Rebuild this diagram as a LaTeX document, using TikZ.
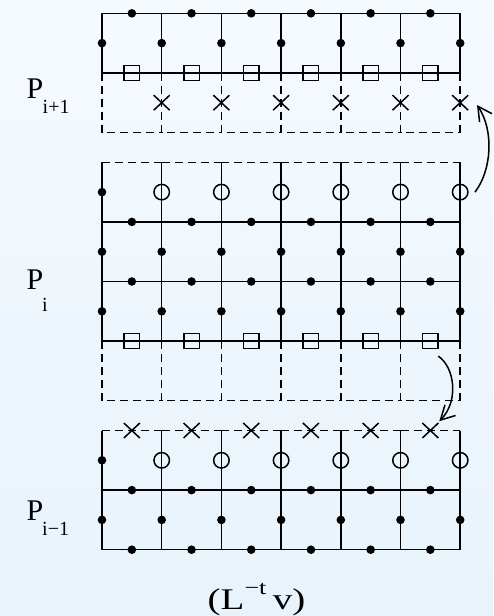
\documentclass[tikz,border=0pt]{standalone}
\usepackage{fontspec}
\setmainfont{Liberation Serif}
\usetikzlibrary{arrows.meta,calc,shapes.misc}
\definecolor{bgtop}{RGB}{245,250,255}
\definecolor{bgbot}{RGB}{232,243,251}
\begin{document}
\begin{tikzpicture}[x=1pt,y=-1pt,
  ln/.style={line width=1.5pt, black},
  dsh/.style={line width=1.5pt, black, dash pattern=on 8pt off 5pt},
  dotnode/.style={circle, fill=black, inner sep=0pt, minimum size=8.6pt},
  circnode/.style={circle, draw=black, line width=1.5pt, inner sep=0pt, minimum size=15.5pt},
  sqnode/.style={rectangle, draw=black, line width=1.5pt, inner sep=0pt, minimum width=15.5pt, minimum height=15pt},
  crossnode/.style={cross out, draw=black, line width=1.5pt, inner sep=0pt, minimum width=14.5pt, minimum height=13.5pt},
  arr/.style={line width=1.5pt, black, -{Straight Barb[length=14pt,width=15pt,line width=1.5pt]}},
  lab/.style={anchor=base west, inner sep=0pt, font=\fontsize{30}{30}\selectfont},
  sublab/.style={anchor=base west, inner sep=0pt, font=\fontsize{20}{20}\selectfont}]
\useasboundingbox (0,0) rectangle (493,616);
\shade[top color=bgtop, bottom color=bgbot] (0,0) rectangle (493,616);

\begin{scope}[shift={(102,13.3)}, x=59.7pt, y=-29.8pt]
  % ---------- top block (P_{i+1}) ----------
  \draw[ln] (0,0) -- (6,0);
  \draw[ln] (0,2) -- (6,2);
  \foreach \i in {0,...,6} \draw[ln] (\i,0) -- (\i,2);
  \foreach \i in {0,...,5} \draw[dsh] (\i,2) -- (\i,4) -- (\i+1,4);
  \draw[dsh] (6,2) -- (6,4);
  \foreach \i in {0,...,5} \node[dotnode] (ta\i) at (\i+0.5,0) {};
  \foreach \i in {0,...,6} \node[dotnode] (tb\i) at (\i,1) {};
  \foreach \i in {0,...,5} \node[sqnode] (ts\i) at (\i+0.5,2) {};
  \foreach \i in {1,...,6} \node[crossnode] (tx\i) at (\i,3) {};

  % ---------- middle block (P_i) ----------
  \foreach \i in {0,...,5} \draw[dsh] (\i,5) -- (\i+1,5);
  \foreach \i in {0,...,6} \draw[ln] (\i,5) -- (\i,11);
  \draw[ln] (0,7) -- (6,7);
  \draw[ln] (0,9) -- (6,9);
  \draw[ln] (0,11) -- (6,11);
  \foreach \i in {0,...,5} \draw[dsh] (\i,11) -- (\i,13) -- (\i+1,13);
  \draw[dsh] (6,11) -- (6,13);
  \node[dotnode] (mc0) at (0,6) {};
  \foreach \i in {1,...,6} \node[circnode] (mc\i) at (\i,6) {};
  \foreach \i in {0,...,5} \node[dotnode] (ma\i) at (\i+0.5,7) {};
  \foreach \i in {0,...,6} \node[dotnode] (mb\i) at (\i,8) {};
  \foreach \i in {0,...,5} \node[dotnode] (md\i) at (\i+0.5,9) {};
  \foreach \i in {0,...,6} \node[dotnode] (me\i) at (\i,10) {};
  \foreach \i in {0,...,5} \node[sqnode] (ms\i) at (\i+0.5,11) {};

  % ---------- bottom block (P_{i-1}) ----------
  \foreach \i in {0,...,5} \draw[dsh] (\i,14) -- (\i+1,14);
  \foreach \i in {0,...,6} \draw[ln] (\i,14) -- (\i,18);
  \draw[ln] (0,16) -- (6,16);
  \draw[ln] (0,18) -- (6,18);
  \foreach \i in {0,...,5} \node[crossnode] (bx\i) at (\i+0.5,14) {};
  \node[dotnode] (bc0) at (0,15) {};
  \foreach \i in {1,...,6} \node[circnode] (bc\i) at (\i,15) {};
  \foreach \i in {0,...,5} \node[dotnode] (ba\i) at (\i+0.5,16) {};
  \foreach \i in {0,...,6} \node[dotnode] (bb\i) at (\i,17) {};
  \foreach \i in {0,...,5} \node[dotnode] (bd\i) at (\i+0.5,18) {};
\end{scope}

% ---------- arrows ----------
\draw[arr] ($(mc6)+(14.8pt,0pt)$) .. controls ($(mc6)+(31.8pt,22.3pt)$) and ($(tx6)+(33.8pt,-27.3pt)$) .. ($(tx6)+(16.8pt,-2.3pt)$);
\draw[arr] ($(ms5)+(7.9pt,-15pt)$) .. controls ($(ms5)+(24.6pt,-26.3pt)$) and ($(bx5)+(28.6pt,29pt)$) .. ($(bx5)+(8.9pt,9.3pt)$);

% ---------- labels ----------
\node[lab] (pA) at (26.5,98) {P};
\node[sublab] (pAs) at (42.5,113) {i+1};
\node[lab] (pB) at (26.5,289.5) {P};
\node[sublab] (pBs) at (42,311.5) {i};
\node[lab] (pC) at (26.5,520.7) {P};
\node[sublab] (pCs) at (42,535) {i−1};
\node[lab] (lt) at (207.5,609) {\scalebox{1.3}[1]{(L\raisebox{15pt}{\fontsize{20}{20}\selectfont −t}\hspace{5pt}v)}};
\end{tikzpicture}
\end{document}
